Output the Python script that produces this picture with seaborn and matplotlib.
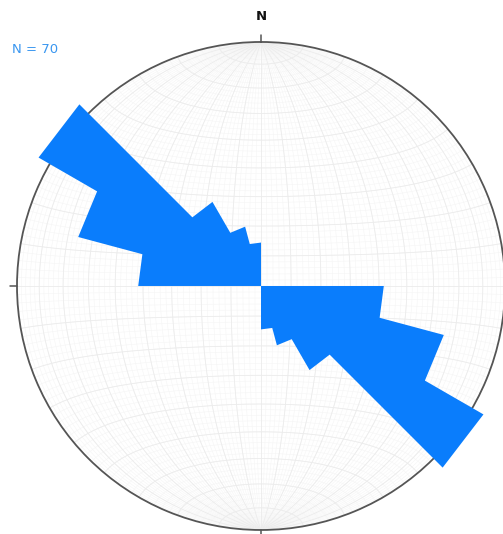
import numpy as np
import pandas as pd
import matplotlib
matplotlib.use("Agg")
import matplotlib.pyplot as plt
import seaborn as sns

# Strike counts of 70 lineaments, binned every 15 degrees over 0-180 (bidirectional rose)
bin_start_deg = [0, 15, 30, 45, 60, 75, 90, 105, 120, 135, 150, 165]
strike_counts = [0, 0, 0, 0, 0, 0, 8, 19, 35, 5, 2, 1]
bin_width_deg = 15
n_label = "N = 70"
north_label = "N"

petal_color = "#0A7DFC"
label_color = "#3A97F0"
rim_color = "#555555"

sns.set_theme(style="white")
plt.rcParams["font.family"] = ["DejaVu Sans"]

fig = plt.figure(figsize=(5.03, 5.34), dpi=100)
ax = fig.add_axes([0.0338, 0.0075, 0.9702, 0.9139], projection="polar")
ax.set_theta_zero_location("N")
ax.set_theta_direction(-1)

# radial axis in sqrt(count) units (equal-area petals)
r_max = 5.62
ax.set_ylim(0, r_max)


def project(x, y, z):
    """Lower-hemisphere equal-area projection -> (azimuth rad, radius)."""
    theta = np.arccos(np.clip(z, -1, 1))
    r = np.sqrt(2) * np.sin(theta / 2)
    return np.arctan2(x, y), r * r_max


def net_lines(step):
    """Schmidt net: great circles through the N-S axis and small circles about it."""
    rows = []
    phi = np.linspace(0, np.pi, 181)
    lid = 0
    for d in range(step, 180, step):
        dr = np.deg2rad(d)
        az, rr = project(np.sin(phi) * np.cos(dr), np.cos(phi), np.sin(phi) * np.sin(dr))
        rows.append(pd.DataFrame({"az": az, "r": rr, "line": lid}))
        lid += 1
    for a in range(step, 180, step):
        ar = np.deg2rad(a)
        az, rr = project(np.sin(ar) * np.cos(phi), np.full_like(phi, np.cos(ar)),
                         np.sin(ar) * np.sin(phi))
        rows.append(pd.DataFrame({"az": az, "r": rr, "line": lid}))
        lid += 1
    return pd.concat(rows, ignore_index=True)


sns.lineplot(data=net_lines(2), x="az", y="r", units="line", estimator=None, sort=False,
             color="#f5f5f5", linewidth=0.4, ax=ax, zorder=1)
sns.lineplot(data=net_lines(10), x="az", y="r", units="line", estimator=None, sort=False,
             color="#ececec", linewidth=0.6, ax=ax, zorder=1.1)

# rose petals, mirrored to both ends of each strike, as one outline with straight ends
starts = bin_start_deg + [s + 180 for s in bin_start_deg]
counts = strike_counts + strike_counts
pt_theta, pt_r = [0.0], [0.0]
for s, c in zip(starts, counts):
    pt_theta += [np.deg2rad(s), np.deg2rad(s + bin_width_deg)]
    pt_r += [np.sqrt(c), np.sqrt(c)]
ax.fill(pt_theta, pt_r, color=petal_color, linewidth=0, zorder=3, clip_on=False)

# cardinal ticks outside the rim
for t in [0, 90, 180, 270]:
    ax.plot([np.deg2rad(t)] * 2, [r_max, r_max * 1.03], color=rim_color,
            linewidth=1.1, clip_on=False, zorder=4)

ax.grid(False)
ax.set_xticks([])
ax.set_yticks([])
ax.set_xlabel("")
ax.set_ylabel("")
ax.spines["polar"].set_color(rim_color)
ax.spines["polar"].set_linewidth(1.3)
ax.set_facecolor("white")
legend = ax.get_legend()
if legend is not None:
    legend.remove()

ax.text(0, r_max * 1.105, north_label, ha="center", va="center",
        fontsize=9.5, fontweight="bold", color="#111111")
fig.text(0.024, 0.908, n_label, ha="left", va="center", fontsize=9.5, color=label_color)

fig.savefig("out.png", dpi=100, facecolor="white")
